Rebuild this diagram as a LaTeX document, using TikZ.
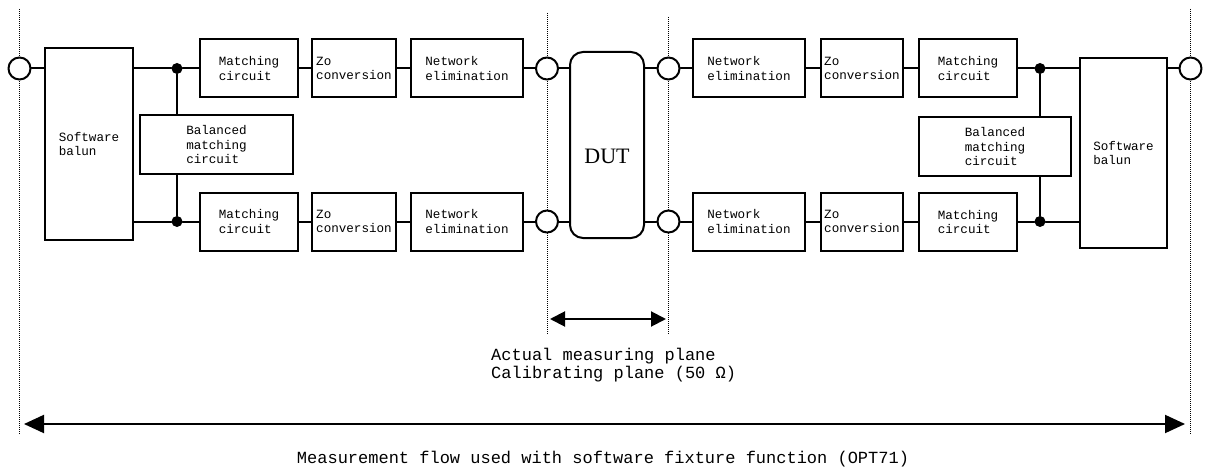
\documentclass[tikz,border=0pt]{standalone}
\usepackage{fontspec}
\setmainfont{Liberation Serif}
\setmonofont{Liberation Mono}
\usetikzlibrary{arrows.meta}
\begin{document}
\begin{tikzpicture}[x=1pt,y=-1pt,line cap=round,line join=round,
  box/.style={draw,line width=2pt,line join=miter,inner sep=1pt,align=left,
    minimum width=#1,minimum height=58pt,font=\ttfamily\fontsize{12.6}{14.5}\selectfont},
  box/.default=98pt,
  port/.style={circle,draw,fill=white,line width=2pt,inner sep=0pt,minimum size=22pt},
  junc/.style={circle,fill,inner sep=0pt,minimum size=11pt},
  wire/.style={line width=2pt},
  plane/.style={line width=1pt,line cap=butt,dash pattern=on 1pt off 1pt},
  span/.style={line width=2pt,<->},
  note/.style={inner sep=0pt,align=left,font=\ttfamily\fontsize{17}{18}\selectfont}]
  \useasboundingbox (0,0) rectangle (1205,468);
  \draw[plane] (19.5,9) -- (19.5,435);
  \draw[plane] (547,13) -- (547,335);
  \draw[plane] (668.5,17) -- (668.5,335);
  \draw[plane] (1190.5,9) -- (1190.5,435);
  \node[port] (pL) at (19.5,68.5) {};
  \node[box=88pt,minimum height=192pt] (balL) at (89,144) {Software\\balun};
  \node[junc] (jTL) at (177,68.5) {};
  \node[junc] (jBL) at (177,221.5) {};
  \node[box=153pt,minimum height=59pt] (bmL) at (216.5,144.5) {Balanced\\matching\\circuit};
  \node[box] (mTL) at (249,68.5) {Matching\\circuit};
  \node[box=84pt] (zTL) at (354,68.5) {Zo\\conversion};
  \node[box=112pt] (nTL) at (467,68.5) {Network\\elimination};
  \node[box] (mBL) at (249,221.5) {Matching\\circuit};
  \node[box=84pt] (zBL) at (354,221.5) {Zo\\conversion};
  \node[box=112pt] (nBL) at (467,221.5) {Network\\elimination};
  \node[port] (pTL) at (547,68.5) {};
  \node[port] (pBL) at (547,221.5) {};
  \node[draw,line width=2pt,rounded corners=13pt,minimum width=74pt,minimum height=186pt] (dut) at (607,145) {};
  \node[font=\fontsize{22}{24}\selectfont] (dutlbl) at (607,156) {DUT};
  \node[port] (pTR) at (668.5,68.5) {};
  \node[port] (pBR) at (668.5,221.5) {};
  \node[box=112pt] (nTR) at (749,68.5) {Network\\elimination};
  \node[box=82pt] (zTR) at (862,68.5) {Zo\\conversion};
  \node[box] (mTR) at (968,68.5) {Matching\\circuit};
  \node[box=112pt] (nBR) at (749,221.5) {Network\\elimination};
  \node[box=82pt] (zBR) at (862,221.5) {Zo\\conversion};
  \node[box] (mBR) at (968,222) {Matching\\circuit};
  \node[junc] (jTR) at (1040,68.5) {};
  \node[junc] (jBR) at (1040,221.5) {};
  \node[box=152pt,minimum height=59pt] (bmR) at (995,146.5) {Balanced\\matching\\circuit};
  \node[box=87pt,minimum height=190pt] (balR) at (1123.5,153) {Software\\balun};
  \node[port] (pR) at (1190.5,68.5) {};
  \draw[wire] (pL) -- (pL -| balL.west);
  \draw[wire] (jTL -| balL.east) -- (jTL) -- (mTL) -- (zTL) -- (nTL) -- (pTL) -- (pTL -| dut.west);
  \draw[wire] (jBL -| balL.east) -- (jBL) -- (mBL) -- (zBL) -- (nBL) -- (pBL) -- (pBL -| dut.west);
  \draw[wire] (jTL) -- (jTL |- bmL.north);
  \draw[wire] (jBL) -- (jBL |- bmL.south);
  \draw[wire] (pTR -| dut.east) -- (pTR) -- (nTR) -- (zTR) -- (mTR) -- (jTR) -- (jTR -| balR.west);
  \draw[wire] (pBR -| dut.east) -- (pBR) -- (nBR) -- (zBR) -- (mBR.west |- pBR);
  \draw[wire] (mBR.east |- jBR) -- (jBR) -- (jBR -| balR.west);
  \draw[wire] (jTR) -- (jTR |- bmR.north);
  \draw[wire] (jBR) -- (jBR |- bmR.south);
  \draw[wire] (balR.east |- pR) -- (pR);
  \coordinate (calL) at (550,319);
  \coordinate (calR) at (666,319);
  \coordinate (flowL) at (24,424);
  \coordinate (flowR) at (1185,424);
  \draw[span,>={Triangle[length=15pt,width=15pt]}] (calL) -- (calR);
  \draw[span,>={Triangle[length=20pt,width=18pt]}] (flowL) -- (flowR);
  \node[note,anchor=west] (planes) at (491,365) {Actual measuring plane\\Calibrating plane (50 Ω)};
  \node[note] (flow) at (603,459) {Measurement flow used with software fixture function (OPT71)};
\end{tikzpicture}
\end{document}
